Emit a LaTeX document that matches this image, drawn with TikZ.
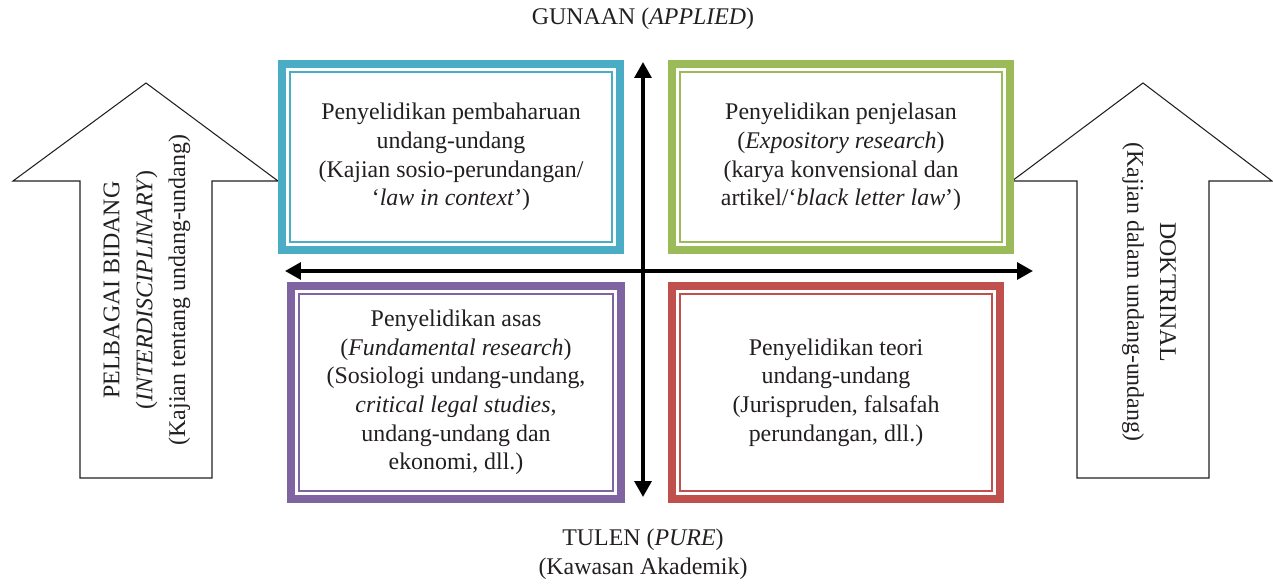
\documentclass[tikz,border=0pt]{standalone}
\usepackage{fontspec}
\setmainfont{Liberation Serif}
\usepackage{xcolor}
\usetikzlibrary{arrows.meta}
\definecolor{ink}{HTML}{231F20}
\definecolor{aqua}{HTML}{4BACC6}
\definecolor{olive}{HTML}{9BBB59}
\definecolor{plum}{HTML}{8064A2}
\definecolor{brick}{HTML}{C0504D}
\tikzstyle{quadbox} = [rectangle, line width=4.5pt, outer sep=0pt, fill=white, text=ink, align=center, font=\fontsize{13.6}{16.3}\selectfont]
\tikzstyle{innerline} = [line width=1.4pt]
\tikzstyle{bigarrow} = [draw=ink, line width=0.6pt, fill=white]
\tikzstyle{sidetext} = [text=ink, align=center, font=\fontsize{13.6}{18.7}\selectfont]
\tikzstyle{axistext} = [text=ink, align=center, font=\fontsize{13.6}{16.3}\selectfont]
\tikzstyle{axis} = [line width=2pt, draw=black, {Triangle[length=9pt,width=9.5pt]}-{Triangle[length=9pt,width=9.5pt]}]

\begin{document}
\begin{tikzpicture}[x=0.02cm,y=-0.02cm]
        \useasboundingbox (0,0) rectangle (1273,584);
        % big side arrows
        \draw [bigarrow] (146,83) -- (278,181) -- (212,181) -- (212,478) -- (80,478) -- (80,181) -- (13,181) -- cycle;
        \draw [bigarrow] (1143,83) -- (1272,181) -- (1209,181) -- (1209,478) -- (1077,478) -- (1077,181) -- (1012,181) -- cycle;
        \node (inter) [sidetext, rotate=90] at (147,290) {PELBAGAI BIDANG\\(\textit{INTERDISCIPLINARY})\\(Kajian tentang undang-undang)};
        \node (doktrin) [sidetext, rotate=-90] at (1149,292) {DOKTRINAL\\(Kajian dalam undang-undang)};
        % quadrants
        \node (reform) [quadbox, draw=aqua, minimum width=6.76cm, minimum height=3.72cm] at (451,157) {Penyelidikan pembaharuan\\undang-undang\\(Kajian sosio-perundangan/\\`\textit{law in context}')};
        \node (expo) [quadbox, draw=olive, minimum width=6.76cm, minimum height=3.72cm] at (841,157) {Penyelidikan penjelasan\\(\textit{Expository research})\\(karya konvensional dan\\artikel/`\textit{black letter law}')};
        \node (asas) [quadbox, draw=plum, minimum width=6.6cm, minimum height=4.26cm] at (456,392.5) {Penyelidikan asas\\(\textit{Fundamental research})\\(Sosiologi undang-undang,\\\textit{critical legal studies},\\undang-undang dan\\ekonomi, dll.)};
        \node (teori) [quadbox, draw=brick, minimum width=6.56cm, minimum height=4.26cm] at (836,392.5) {Penyelidikan teori\\undang-undang\\(Jurispruden, falsafah\\perundangan, dll.)};
        \draw [innerline, aqua] ([shift={(8,8)}]reform.north west) rectangle ([shift={(-8,-8)}]reform.south east);
        \draw [innerline, olive] ([shift={(8,8)}]expo.north west) rectangle ([shift={(-8,-8)}]expo.south east);
        \draw [innerline, plum] ([shift={(8,8)}]asas.north west) rectangle ([shift={(-8,-8)}]asas.south east);
        \draw [innerline, brick] ([shift={(8,8)}]teori.north west) rectangle ([shift={(-8,-8)}]teori.south east);
        % axes
        \coordinate (top) at (643,62);
        \coordinate (bottom) at (643,497);
        \coordinate (left) at (285,271);
        \coordinate (right) at (1033,271);
        \draw [axis] (top) -- (bottom);
        \draw [axis] (left) -- (right);
        \node (applied) [axistext] at (643,19) {GUNAAN (\textit{APPLIED})};
        \node (pure) [axistext] at (643,554) {TULEN (\textit{PURE})\\(Kawasan Akademik)};
    \end{tikzpicture}
\end{document}
